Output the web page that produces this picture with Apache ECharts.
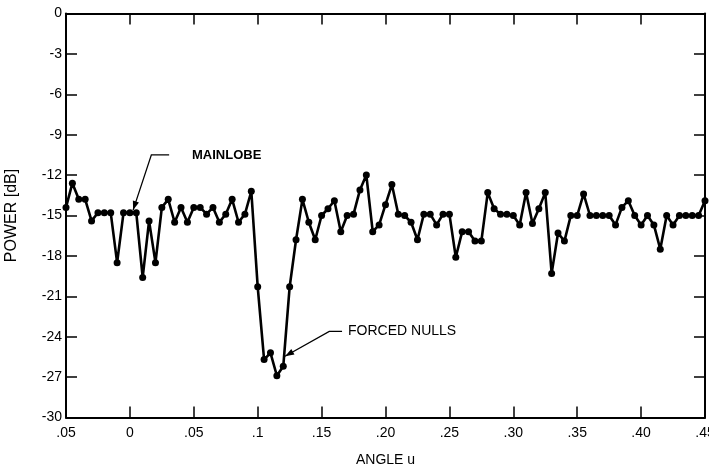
<!DOCTYPE html>
<html>
<head>
<meta charset="utf-8">
<script src="https://cdn.jsdelivr.net/npm/echarts@6/dist/echarts.min.js"></script>
<style>
html,body{margin:0;padding:0;background:#fff;}
#chart{width:709px;height:468px;}
</style>
</head>
<body>
<div id="chart"></div>
<script>
// Angle u (sample positions)
var angles = [
  -0.05, -0.045, -0.04, -0.035, -0.03, -0.025, -0.02, -0.015, -0.01, -0.005,
  0.0, 0.005, 0.01, 0.015, 0.02, 0.025, 0.03, 0.035, 0.04, 0.045,
  0.05, 0.055, 0.06, 0.065, 0.07, 0.075, 0.08, 0.085, 0.09, 0.095,
  0.10, 0.105, 0.11, 0.115, 0.12, 0.125, 0.13, 0.135, 0.14, 0.145,
  0.15, 0.155, 0.16, 0.165, 0.17, 0.175, 0.18, 0.185, 0.19, 0.195,
  0.20, 0.205, 0.21, 0.215, 0.22, 0.225, 0.23, 0.235, 0.24, 0.245,
  0.25, 0.255, 0.26, 0.265, 0.27, 0.275, 0.28, 0.285, 0.29, 0.295,
  0.30, 0.305, 0.31, 0.315, 0.32, 0.325, 0.33, 0.335, 0.34, 0.345,
  0.35, 0.355, 0.36, 0.365, 0.37, 0.375, 0.38, 0.385, 0.39, 0.395,
  0.40, 0.405, 0.41, 0.415, 0.42, 0.425, 0.43, 0.435, 0.44, 0.445,
  0.45
];
// Power [dB]
var power = [
  -14.4, -12.6, -13.8, -13.8, -15.4, -14.8, -14.8, -14.8, -18.5, -14.8,
  -14.8, -14.8, -19.6, -15.4, -18.5, -14.4, -13.8, -15.5, -14.4, -15.5,
  -14.4, -14.4, -14.9, -14.4, -15.5, -14.9, -13.8, -15.5, -14.9, -13.2,
  -20.3, -25.7, -25.2, -26.9, -26.2, -20.3, -16.8, -13.8, -15.5, -16.8,
  -15.0, -14.5, -13.9, -16.2, -15.0, -14.9, -13.1, -12.0, -16.2, -15.7,
  -14.2, -12.7, -14.9, -15.0, -15.5, -16.8, -14.9, -14.9, -15.7, -14.9,
  -14.9, -18.1, -16.2, -16.2, -16.9, -16.9, -13.3, -14.5, -14.9, -14.9,
  -15.0, -15.7, -13.3, -15.6, -14.5, -13.3, -19.3, -16.3, -16.9, -15.0,
  -15.0, -13.4, -15.0, -15.0, -15.0, -15.0, -15.7, -14.4, -13.9, -15.0,
  -15.7, -15.0, -15.7, -17.5, -15.0, -15.7, -15.0, -15.0, -15.0, -15.0,
  -13.9
];
var xTickLabels = ['.05', '0', '.05', '.1', '.15', '.20', '.25', '.30', '.35', '.40', '.45'];
var xName = 'ANGLE u';
var yName = 'POWER [dB]';
var annotations = [
  {text: 'MAINLOBE', bold: true, textAt: [0.0486, -10.56], path: [[0.0307, -10.5], [0.0168, -10.5], [0.0025, -14.6]]},
  {text: 'FORCED NULLS', bold: false, textAt: [0.1707, -23.56], path: [[0.1660, -23.6], [0.1560, -23.6], [0.1214, -25.45]]}
];

var FONT = 'Liberation Sans, Arial, sans-serif';
var chart = echarts.init(document.getElementById('chart'), null, {renderer: 'canvas'});
var data = angles.map(function (a, i) { return [a, power[i]]; });

function xLabel(v) {
  var idx = Math.round((v + 0.05) / 0.05);
  return xTickLabels[idx] !== undefined ? xTickLabels[idx] : '';
}

function axisCommon() {
  return {
    axisLine: {show: true, onZero: false, lineStyle: {color: '#000', width: 2}},
    axisTick: {show: true, inside: true, length: 11, lineStyle: {color: '#000', width: 1.5}},
    splitLine: {show: false}
  };
}

chart.setOption({
  animation: false,
  backgroundColor: '#fff',
  grid: {left: 66, right: 4, top: 13.5, bottom: 50.5, containLabel: false, outerBoundsMode: 'none'},
  xAxis: [
    Object.assign({
      type: 'value', min: -0.05, max: 0.45, interval: 0.05, position: 'bottom',
      name: xName, nameLocation: 'middle', nameGap: 36,
      nameTextStyle: {fontFamily: FONT, fontSize: 14, color: '#000'},
      axisLabel: {formatter: xLabel, fontFamily: FONT, fontSize: 14, color: '#000', margin: 9, showMinLabel: true, showMaxLabel: true}
    }, axisCommon()),
    Object.assign({
      type: 'value', min: -0.05, max: 0.45, interval: 0.05, position: 'top',
      axisLabel: {show: false}
    }, axisCommon())
  ],
  yAxis: [
    Object.assign({
      type: 'value', min: -30, max: 0, interval: 3, position: 'left',
      name: yName, nameLocation: 'middle', nameGap: 46, nameRotate: 90,
      nameTextStyle: {fontFamily: FONT, fontSize: 16, color: '#000'},
      axisLabel: {fontFamily: FONT, fontSize: 14, color: '#000', margin: 4}
    }, axisCommon()),
    Object.assign({
      type: 'value', min: -30, max: 0, interval: 3, position: 'right',
      axisLabel: {show: false}
    }, axisCommon())
  ],
  series: [{
    type: 'line',
    data: data,
    xAxisIndex: 0, yAxisIndex: 0,
    symbol: 'circle', symbolSize: 7,
    showAllSymbol: true,
    lineStyle: {color: '#000', width: 2.6},
    itemStyle: {color: '#000'},
    clip: false
  }]
});

var graphics = [];
annotations.forEach(function (a) {
  var pts = a.path.map(function (p) { return chart.convertToPixel({gridIndex: 0}, p); });
  graphics.push({type: 'polyline', shape: {points: pts}, style: {stroke: '#000', lineWidth: 1.3, fill: null}, z: 100});
  var n = pts.length;
  var tip = pts[n - 1], prev = pts[n - 2];
  var ang = Math.atan2(tip[1] - prev[1], tip[0] - prev[0]);
  var L = 9, W = 3.2;
  var bx = tip[0] - L * Math.cos(ang), by = tip[1] - L * Math.sin(ang);
  var px = -Math.sin(ang) * W, py = Math.cos(ang) * W;
  graphics.push({type: 'polygon', shape: {points: [tip, [bx + px, by + py], [bx - px, by - py]]}, style: {fill: '#000'}, z: 100});
  var tp = chart.convertToPixel({gridIndex: 0}, a.textAt);
  graphics.push({type: 'text', x: tp[0], y: tp[1], style: {text: a.text, fontFamily: FONT, fontSize: a.bold ? 13 : 14, fontWeight: a.bold ? 'bold' : 'normal', fill: '#000', textVerticalAlign: 'middle', verticalAlign: 'middle'}, z: 100});
});
chart.setOption({graphic: graphics});
</script>
</body>
</html>
